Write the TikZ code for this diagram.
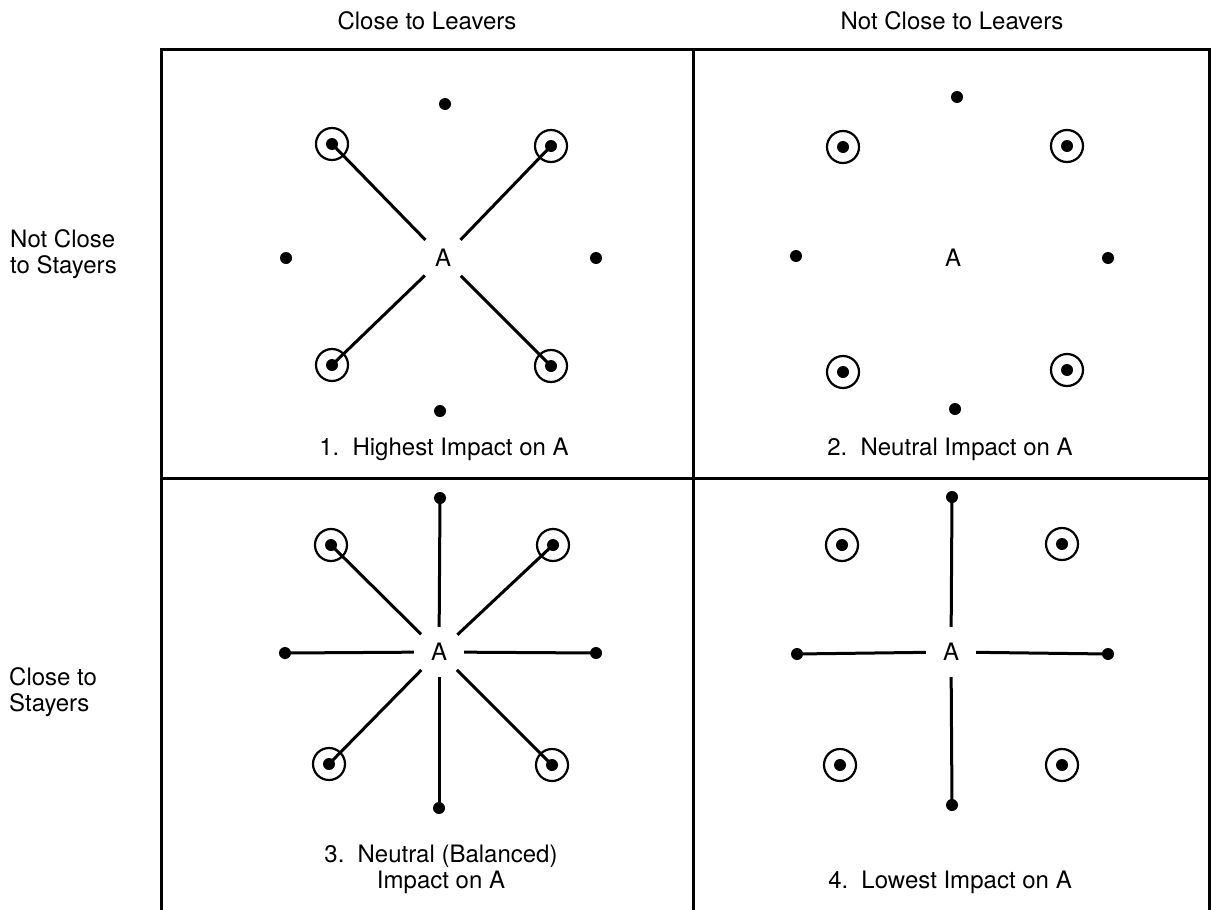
\documentclass[tikz,border=0pt]{standalone}
\usepackage{fontspec}
\setmainfont{TeX Gyre Heros}
\begin{document}
\begin{tikzpicture}[x=1pt,y=-1pt,
  frame/.style={line width=3pt},
  link/.style={line width=3pt},
  dotn/.style={circle,fill=black,inner sep=0pt,minimum size=12pt},
  ring/.style={circle,draw,line width=2.2pt,inner sep=0pt,minimum size=32pt},
  hub/.style={circle,inner sep=0pt,minimum size=50pt,font=\fontsize{24}{26}\selectfont},
  lbl/.style={font=\fontsize{24}{26}\selectfont,inner sep=0pt},
]
\useasboundingbox (0,0) rectangle (1218,910);
\fill[white] (0,0) rectangle (1218,910);

% frame
\coordinate (tl) at (161,49);
\coordinate (tm) at (693,49);
\coordinate (tr) at (1209,49);
\coordinate (bl) at (161,910);
\coordinate (bm) at (693,910);
\coordinate (br) at (1209,910);
\coordinate (ml) at (161,478);
\coordinate (mr) at (1209,478);
\draw[frame] (bl) -- (tl) -- (tr) -- (br);
\draw[frame] (tm) -- (bm);
\draw[frame] (ml) -- (mr);

% headers
\node[lbl] (h1) at (427,21) {Close to Leavers};
\node[lbl] (h2) at (952,21) {Not Close to Leavers};
\node[lbl,align=left,anchor=west] (r1) at (10,254) {Not Close\\to Stayers};
\node[lbl,align=left,anchor=west] (r2) at (9,692) {Close to\\Stayers};

% panel 1
\node[hub] (p1A) at (443,258) {A};
\node[dotn] (p1N) at (445,104) {};
\node[dotn] (p1S) at (440,411) {};
\node[dotn] (p1W) at (286,258) {};
\node[dotn] (p1E) at (596,258) {};
\node[dotn] (p1NW) at (332,144) {};
\node[dotn] (p1NE) at (551,146) {};
\node[dotn] (p1SW) at (332,365) {};
\node[dotn] (p1SE) at (551,366) {};
\node[ring] (p1NWr) at (p1NW) {};
\node[ring] (p1NEr) at (p1NE) {};
\node[ring] (p1SWr) at (p1SW) {};
\node[ring] (p1SEr) at (p1SE) {};
\draw[link] (p1NW.center) -- (p1A);
\draw[link] (p1NE.center) -- (p1A);
\draw[link] (p1SW.center) -- (p1A);
\draw[link] (p1SE.center) -- (p1A);
\node[lbl] (p1cap) at (444,449) {1.\hspace{0.55em}Highest Impact on A};

% panel 2
\node[hub] (p2A) at (953,258) {A};
\node[dotn] (p2N) at (957,97) {};
\node[dotn] (p2S) at (955,409) {};
\node[dotn] (p2W) at (796,256) {};
\node[dotn] (p2E) at (1108,258) {};
\node[dotn] (p2NW) at (843,147) {};
\node[dotn] (p2NE) at (1067,146) {};
\node[dotn] (p2SW) at (843,372) {};
\node[dotn] (p2SE) at (1067,370) {};
\node[ring] (p2NWr) at (p2NW) {};
\node[ring] (p2NEr) at (p2NE) {};
\node[ring] (p2SWr) at (p2SW) {};
\node[ring] (p2SEr) at (p2SE) {};
\node[lbl] (p2cap) at (950,449) {2.\hspace{0.55em}Neutral Impact on A};

% panel 3
\node[hub] (p3A) at (439,652) {A};
\node[dotn] (p3N) at (440,498) {};
\node[dotn] (p3S) at (439,808) {};
\node[dotn] (p3W) at (285,653) {};
\node[dotn] (p3E) at (596,653) {};
\node[dotn] (p3NW) at (331,545) {};
\node[dotn] (p3NE) at (553,545) {};
\node[dotn] (p3SW) at (329,764) {};
\node[dotn] (p3SE) at (552,765) {};
\node[ring] (p3NWr) at (p3NW) {};
\node[ring] (p3NEr) at (p3NE) {};
\node[ring] (p3SWr) at (p3SW) {};
\node[ring] (p3SEr) at (p3SE) {};
\draw[link] (p3N.center) -- (p3A);
\draw[link] (p3S.center) -- (p3A);
\draw[link] (p3W.center) -- (p3A);
\draw[link] (p3E.center) -- (p3A);
\draw[link] (p3NW.center) -- (p3A);
\draw[link] (p3NE.center) -- (p3A);
\draw[link] (p3SW.center) -- (p3A);
\draw[link] (p3SE.center) -- (p3A);
\node[lbl,align=center] (p3cap) at (441,869) {3.\hspace{0.55em}Neutral (Balanced)\\Impact on A};

% panel 4
\node[hub] (p4A) at (951,652) {A};
\node[dotn] (p4N) at (952,497) {};
\node[dotn] (p4S) at (952,805) {};
\node[dotn] (p4W) at (797,654) {};
\node[dotn] (p4E) at (1108,654) {};
\node[dotn] (p4NW) at (842,545) {};
\node[dotn] (p4NE) at (1062,544) {};
\node[dotn] (p4SW) at (840,765) {};
\node[dotn] (p4SE) at (1062,765) {};
\node[ring] (p4NWr) at (p4NW) {};
\node[ring] (p4NEr) at (p4NE) {};
\node[ring] (p4SWr) at (p4SW) {};
\node[ring] (p4SEr) at (p4SE) {};
\draw[link] (p4N.center) -- (p4A);
\draw[link] (p4S.center) -- (p4A);
\draw[link] (p4W.center) -- (p4A);
\draw[link] (p4E.center) -- (p4A);
\node[lbl] (p4cap) at (950,882) {4.\hspace{0.55em}Lowest Impact on A};
\end{tikzpicture}
\end{document}
